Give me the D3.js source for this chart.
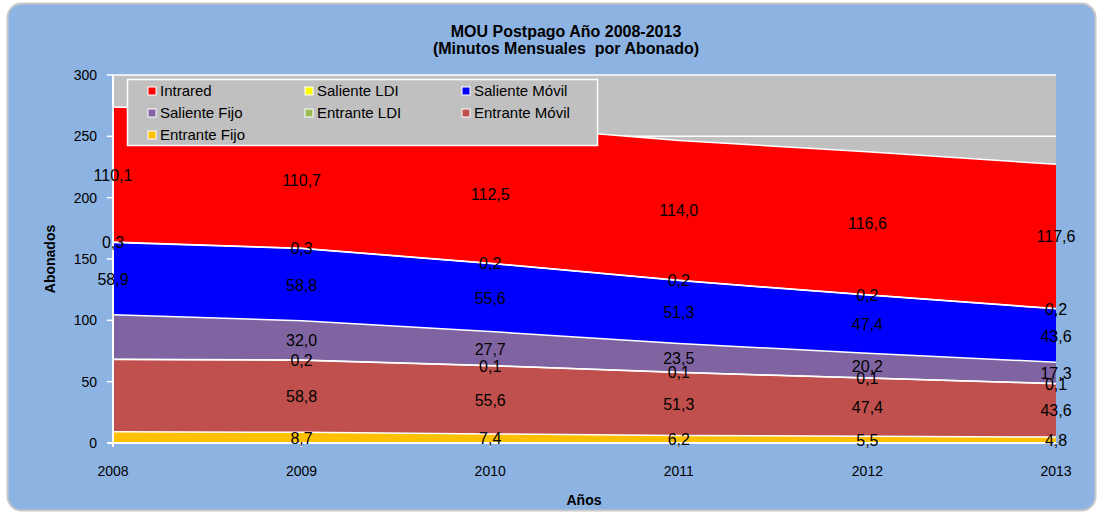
<!DOCTYPE html>
<html>
<head>
<meta charset="utf-8">
<script src="https://cdn.jsdelivr.net/npm/d3@7"></script>
<style>
  body { margin: 0; background: #fff; }
  text { font-family: "Liberation Sans", Arial, sans-serif; fill: #000; }
</style>
</head>
<body>
<script>
var w = 1098;
var h = 512;

// data
var years = ["2008", "2009", "2010", "2011", "2012", "2013"];
var entranteFijo  = [9.1, 8.7, 7.4, 6.2, 5.5, 4.8];
var entranteMovil = [58.9, 58.8, 55.6, 51.3, 47.4, 43.6];
var entranteLDI   = [0.2, 0.2, 0.1, 0.1, 0.1, 0.1];
var salienteFijo  = [36.4, 32.0, 27.7, 23.5, 20.2, 17.3];
var salienteMovil = [58.9, 58.8, 55.6, 51.3, 47.4, 43.6];
var salienteLDI   = [0.3, 0.3, 0.2, 0.2, 0.2, 0.2];
var intrared      = [110.1, 110.7, 112.5, 114.0, 116.6, 117.6];
var yTicks = [0, 50, 100, 150, 200, 250, 300];

// stacking order bottom -> top
var series = [
    {name: "Entrante Fijo", values: entranteFijo, color: "#FFC000"},
    {name: "Entrante Móvil", values: entranteMovil, color: "#C0504D"},
    {name: "Entrante LDI", values: entranteLDI, color: "#9BBB59"},
    {name: "Saliente Fijo", values: salienteFijo, color: "#8064A2"},
    {name: "Saliente Móvil", values: salienteMovil, color: "#0000FF"},
    {name: "Saliente LDI", values: salienteLDI, color: "#FFFF00"},
    {name: "Intrared", values: intrared, color: "#FF0000"}
];
var legendOrder = ["Intrared", "Saliente LDI", "Saliente Móvil", "Saliente Fijo",
                   "Entrante LDI", "Entrante Móvil", "Entrante Fijo"];
// labels that the original leaves out at 2008
var noLabel2008 = ["Entrante Fijo", "Entrante Móvil", "Entrante LDI", "Saliente Fijo"];

var rows = years.map(function(y, i) {
    var r = {year: y};
    series.forEach(function(s) { r[s.name] = s.values[i]; });
    return r;
});

var stack = d3.stack().keys(series.map(function(s) { return s.name; }));
var stacked = stack(rows);

var svg = d3.select("body").append("svg")
            .attr("width", w)
            .attr("height", h);

// outer frame
svg.append("rect")
    .attr("x", 7.5).attr("y", 3.5)
    .attr("width", 1088).attr("height", 507)
    .attr("rx", 14)
    .attr("fill", "#8DB3E2")
    .attr("stroke", "#C8C8C8")
    .attr("stroke-width", 2);

var plotL = 113, plotR = 1056, plotT = 75, plotB = 443;

var xscale = d3.scalePoint().domain(years).range([plotL, plotR]);
var yscale = d3.scaleLinear().domain([0, 300]).range([plotB, plotT]);

// plot background
svg.append("rect")
    .attr("x", plotL).attr("y", plotT)
    .attr("width", plotR - plotL).attr("height", plotB - plotT)
    .attr("fill", "#C0C0C0");

// gridlines
svg.selectAll("line.grid")
    .data(yTicks.slice(1))
    .enter().append("line")
    .attr("class", "grid")
    .attr("x1", plotL).attr("x2", plotR)
    .attr("y1", function(d) { return yscale(d); })
    .attr("y2", function(d) { return yscale(d); })
    .attr("stroke", "#fff")
    .attr("stroke-width", 1.5);

// areas
var area = d3.area()
    .x(function(d) { return xscale(d.data.year); })
    .y0(function(d) { return yscale(d[0]); })
    .y1(function(d) { return yscale(d[1]); });

var topLine = d3.line()
    .x(function(d) { return xscale(d.data.year); })
    .y(function(d) { return yscale(d[1]); });

svg.selectAll("path.area")
    .data(stacked)
    .enter().append("path")
    .attr("class", "area")
    .attr("d", area)
    .attr("fill", function(d, i) { return series[i].color; });

svg.selectAll("path.edge")
    .data(stacked)
    .enter().append("path")
    .attr("class", "edge")
    .attr("d", topLine)
    .attr("fill", "none")
    .attr("stroke", "#fff")
    .attr("stroke-width", 1.5);

// axes (white lines)
svg.append("line")
    .attr("x1", plotL).attr("x2", plotL)
    .attr("y1", plotT).attr("y2", plotB + 4)
    .attr("stroke", "#fff").attr("stroke-width", 2);
svg.append("line")
    .attr("x1", plotL - 6).attr("x2", plotR)
    .attr("y1", plotB).attr("y2", plotB)
    .attr("stroke", "#fff").attr("stroke-width", 2);

svg.selectAll("line.ytick")
    .data(yTicks)
    .enter().append("line")
    .attr("class", "ytick")
    .attr("x1", plotL - 6).attr("x2", plotL)
    .attr("y1", function(d) { return yscale(d); })
    .attr("y2", function(d) { return yscale(d); })
    .attr("stroke", "#fff").attr("stroke-width", 1.5);

svg.selectAll("line.xtick")
    .data(years)
    .enter().append("line")
    .attr("class", "xtick")
    .attr("x1", function(d) { return xscale(d); })
    .attr("x2", function(d) { return xscale(d); })
    .attr("y1", plotB).attr("y2", plotB + 4)
    .attr("stroke", "#fff").attr("stroke-width", 1.5);

svg.selectAll("text.ylab")
    .data(yTicks)
    .enter().append("text")
    .attr("class", "ylab")
    .attr("x", 97)
    .attr("y", function(d) { return yscale(d) + 5; })
    .attr("text-anchor", "end")
    .attr("font-size", 14)
    .text(function(d) { return d; });

svg.selectAll("text.xlab")
    .data(years)
    .enter().append("text")
    .attr("class", "xlab")
    .attr("x", function(d) { return xscale(d); })
    .attr("y", 476)
    .attr("text-anchor", "middle")
    .attr("font-size", 14)
    .text(function(d) { return d; });

// value labels
var fmt = function(v) { return v.toFixed(1).replace(".", ","); };
stacked.forEach(function(layer, i) {
    var name = series[i].name;
    var pts = layer.filter(function(d, j) {
        return !(j === 0 && noLabel2008.indexOf(name) >= 0);
    });
    svg.selectAll(null)
        .data(pts)
        .enter().append("text")
        .attr("x", function(d) { return xscale(d.data.year); })
        .attr("y", function(d) { return yscale((d[0] + d[1]) / 2) + 6; })
        .attr("text-anchor", "middle")
        .attr("font-size", 16)
        .text(function(d) { return fmt(d.data[name]); });
});

// titles
svg.append("text")
    .attr("x", 566).attr("y", 37)
    .attr("text-anchor", "middle")
    .attr("font-size", 16).attr("font-weight", "bold")
    .text("MOU Postpago Año 2008-2013");
svg.append("text")
    .attr("x", 566).attr("y", 54)
    .attr("text-anchor", "middle")
    .attr("font-size", 16).attr("font-weight", "bold")
    .attr("xml:space", "preserve")
    .text("(Minutos Mensuales  por Abonado)");

svg.append("text")
    .attr("x", 584).attr("y", 505)
    .attr("text-anchor", "middle")
    .attr("font-size", 14).attr("font-weight", "bold")
    .text("Años");

svg.append("text")
    .attr("transform", "translate(55,259) rotate(-90)")
    .attr("text-anchor", "middle")
    .attr("font-size", 14).attr("font-weight", "bold")
    .text("Abonados");

// legend
var legend = svg.append("g");
legend.append("rect")
    .attr("x", 127.5).attr("y", 79.5)
    .attr("width", 470).attr("height", 66)
    .attr("fill", "#C0C0C0")
    .attr("stroke", "#fff").attr("stroke-width", 1.5);

var colX = [148, 305, 462];
var rowY = [91, 113, 135];
var items = legend.selectAll("g.item")
    .data(legendOrder)
    .enter().append("g")
    .attr("class", "item")
    .attr("transform", function(d, i) {
        return "translate(" + colX[i % 3] + "," + rowY[Math.floor(i / 3)] + ")";
    });

items.append("rect")
    .attr("x", 0).attr("y", -4)
    .attr("width", 8).attr("height", 8)
    .attr("fill", function(d) {
        return series.find(function(s) { return s.name === d; }).color;
    })
    .attr("stroke", "#fff").attr("stroke-width", 1);

items.append("text")
    .attr("x", 12).attr("y", 5)
    .attr("font-size", 15)
    .text(function(d) { return d; });
</script>
</body>
</html>
